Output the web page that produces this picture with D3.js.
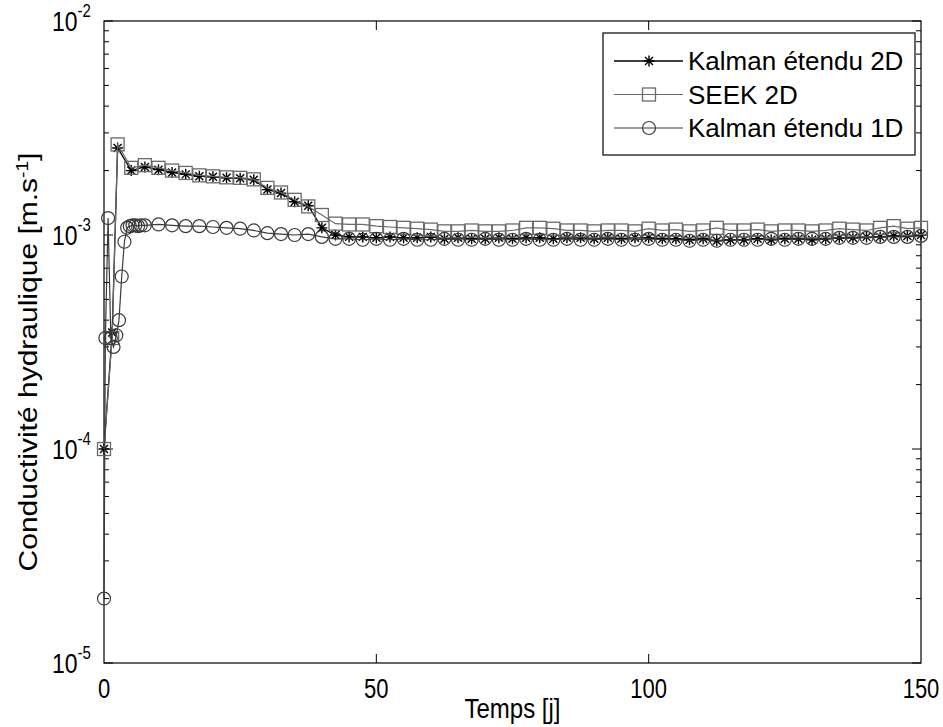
<!DOCTYPE html>
<html>
<head>
<meta charset="utf-8">
<script src="https://cdn.jsdelivr.net/npm/d3@7"></script>
<style>
  html, body { margin: 0; padding: 0; background: #fff; }
  svg { display: block; font-family: "Liberation Sans", Arial, sans-serif; }
</style>
</head>
<body>
<div id="chart"></div>
<script>
// times in days
var timesEkf2D = [0, 1.5, 2.5, 5, 7.5, 10, 12.5, 15, 17.5, 20, 22.5, 25, 27.5, 30, 32.5, 35, 37.5, 40,
    42.5, 45, 47.5, 50, 52.5, 55, 57.5, 60, 62.5, 65, 67.5, 70, 72.5, 75, 77.5, 80, 82.5, 85, 87.5, 90,
    92.5, 95, 97.5, 100, 102.5, 105, 107.5, 110, 112.5, 115, 117.5, 120, 122.5, 125, 127.5, 130,
    132.5, 135, 137.5, 140, 142.5, 145, 147.5, 150];
var timesSeek2D = timesEkf2D;
var timesEkf1D = [0, 0.25, 0.75, 1.25, 1.75, 2.25, 2.75, 3.25, 3.75, 4.25, 4.75, 5.25, 5.75, 6.25, 6.75,
    7.5, 10, 12.5, 15, 17.5, 20, 22.5, 25, 27.5, 30, 32.5, 35, 37.5, 40,
    42.5, 45, 47.5, 50, 52.5, 55, 57.5, 60, 62.5, 65, 67.5, 70, 72.5, 75, 77.5, 80, 82.5, 85, 87.5, 90,
    92.5, 95, 97.5, 100, 102.5, 105, 107.5, 110, 112.5, 115, 117.5, 120, 122.5, 125, 127.5, 130,
    132.5, 135, 137.5, 140, 142.5, 145, 147.5, 150];

// conductivity values, in units of 1e-3 m/s
var ekf2D = [0.10, 0.35, 2.55, 2.00, 2.08, 2.02, 1.96, 1.92, 1.88, 1.87, 1.85, 1.84, 1.81, 1.63, 1.57, 1.43, 1.37, 1.08,
    1.00, 0.98, 0.98, 0.97, 0.98, 0.97, 0.97, 0.98, 0.96, 0.97, 0.96, 0.96, 0.97, 0.96, 0.97, 0.97, 0.96, 0.97, 0.97, 0.96,
    0.97, 0.96, 0.97, 0.97, 0.96, 0.96, 0.95, 0.96, 0.94, 0.95, 0.95, 0.96, 0.95, 0.96, 0.96, 0.95,
    0.96, 0.97, 0.97, 0.98, 0.98, 0.99, 0.99, 1.00];
var seek2D = [0.10, 0.33, 2.65, 2.06, 2.12, 2.06, 2.00, 1.95, 1.90, 1.88, 1.86, 1.85, 1.82, 1.66, 1.58, 1.46, 1.36, 1.24,
    1.13, 1.12, 1.12, 1.10, 1.09, 1.08, 1.07, 1.06, 1.04, 1.04, 1.05, 1.04, 1.04, 1.05, 1.08, 1.08, 1.07, 1.05, 1.05, 1.04,
    1.05, 1.05, 1.04, 1.07, 1.05, 1.06, 1.04, 1.05, 1.08, 1.05, 1.05, 1.06, 1.04, 1.05, 1.05, 1.04,
    1.05, 1.07, 1.06, 1.05, 1.08, 1.10, 1.07, 1.08];
var ekf1D = [0.02, 0.33, 1.20, 0.33, 0.30, 0.34, 0.40, 0.64, 0.93, 1.08, 1.10, 1.11, 1.11, 1.10, 1.11,
    1.11, 1.12, 1.11, 1.10, 1.10, 1.09, 1.08, 1.07, 1.05, 1.02, 1.01, 1.00, 1.01, 0.98,
    0.96, 0.96, 0.95, 0.96, 0.95, 0.96, 0.95, 0.95, 0.96, 0.95, 0.95, 0.96, 0.95, 0.95, 0.96, 0.95, 0.95, 0.96, 0.95,
    0.95, 0.96, 0.95, 0.95, 0.96, 0.95, 0.95, 0.94, 0.95, 0.94, 0.95, 0.95, 0.95, 0.96, 0.95, 0.96,
    0.96, 0.96, 0.97, 0.97, 0.97, 0.98, 0.98, 0.98, 0.99];

var xTicks = [0, 50, 100, 150];
var yDecades = [-5, -4, -3, -2];
var legendLabels = ["Kalman étendu 2D", "SEEK 2D", "Kalman étendu 1D"];

var W = 943, H = 727;
var margin = {top: 21, right: 22, bottom: 64, left: 104};
var width = W - margin.left - margin.right;
var height = H - margin.top - margin.bottom;

var svg = d3.select("#chart").append("svg")
    .attr("width", W)
    .attr("height", H);

var g = svg.append("g")
    .attr("transform", "translate(" + margin.left + "," + margin.top + ")");

var x = d3.scaleLinear().domain([0, 150]).range([0, width]);
var y = d3.scaleLog().domain([1e-5, 1e-2]).range([height, 0]);

function toSeries(times, vals) {
    return times.map(function (t, i) { return {t: t, v: vals[i] * 1e-3}; });
}

var series = [
    {name: legendLabels[0], data: toSeries(timesEkf2D, ekf2D), color: "#000", marker: "star", lw: 1.3},
    {name: legendLabels[1], data: toSeries(timesSeek2D, seek2D), color: "#6a6a6a", marker: "square", lw: 1.2},
    {name: legendLabels[2], data: toSeries(timesEkf1D, ekf1D), color: "#3a3a3a", marker: "circle", lw: 1.2}
];

// text that looks a bit taller than Liberation Sans, like the original
function tallText(parent, px, py, size, anchor, sy) {
    return parent.append("g")
        .attr("transform", "translate(" + px + "," + py + ") scale(1," + sy + ")")
        .append("text")
        .attr("text-anchor", anchor)
        .attr("font-size", size);
}

// axes box
g.append("rect")
    .attr("width", width).attr("height", height)
    .attr("fill", "none").attr("stroke", "#000").attr("stroke-width", 1.2);

// x ticks (inward, bottom and top)
var tickLen = 9, minorLen = 5;
xTicks.forEach(function (t) {
    if (t > 0 && t < 150) {
        g.append("line").attr("x1", x(t)).attr("x2", x(t)).attr("y1", height).attr("y2", height - tickLen)
            .attr("stroke", "#000");
        g.append("line").attr("x1", x(t)).attr("x2", x(t)).attr("y1", 0).attr("y2", tickLen)
            .attr("stroke", "#000");
    }
    tallText(g, x(t), height + 35, 22, "middle", 1.25).text(t);
});

// y ticks: major + log minor, both sides
var minorVals = [];
yDecades.forEach(function (d) {
    if (d < -2) {
        for (var k = 2; k <= 9; k++) minorVals.push(k * Math.pow(10, d));
    }
});
minorVals.forEach(function (v) {
    g.append("line").attr("x1", 0).attr("x2", minorLen).attr("y1", y(v)).attr("y2", y(v)).attr("stroke", "#000");
    g.append("line").attr("x1", width).attr("x2", width - minorLen).attr("y1", y(v)).attr("y2", y(v)).attr("stroke", "#000");
});
yDecades.forEach(function (d) {
    var v = Math.pow(10, d);
    g.append("line").attr("x1", 0).attr("x2", tickLen).attr("y1", y(v)).attr("y2", y(v)).attr("stroke", "#000");
    g.append("line").attr("x1", width).attr("x2", width - tickLen).attr("y1", y(v)).attr("y2", y(v)).attr("stroke", "#000");
    var lab = tallText(g, -52, y(v) + 10, 23, "start", 1.2);
    lab.append("tspan").text("10");
    lab.append("tspan").attr("dy", -12).attr("font-size", 15).text(d);
});

// axis titles
tallText(svg, margin.left + width / 2, 718, 24, "middle", 1.15).text("Temps [j]");

var yl = svg.append("text")
    .attr("transform", "translate(37," + (margin.top + height / 2 + 20) + ") rotate(-90) scale(1.2,1)")
    .attr("text-anchor", "middle")
    .attr("font-size", 25);
yl.append("tspan").text("Conductivité hydraulique [m.s");
yl.append("tspan").attr("dy", -9).attr("font-size", 16).text("-1");
yl.append("tspan").attr("dy", 9).text("]");

// markers
function drawMarker(sel, type, color) {
    if (type === "star") {
        var s = 5.5, d = 4;
        var p = "M" + (-s) + ",0H" + s + "M0," + (-s) + "V" + s +
            "M" + (-d) + "," + (-d) + "L" + d + "," + d + "M" + (-d) + "," + d + "L" + d + "," + (-d);
        sel.append("path").attr("d", p).attr("stroke", color).attr("stroke-width", 1.4).attr("fill", "none");
    } else if (type === "square") {
        sel.append("rect").attr("x", -6.5).attr("y", -6.5).attr("width", 13).attr("height", 13)
            .attr("fill", "none").attr("stroke", color).attr("stroke-width", 1.3);
    } else {
        sel.append("circle").attr("r", 6.5)
            .attr("fill", "none").attr("stroke", color).attr("stroke-width", 1.2);
    }
}

var line = d3.line()
    .x(function (d) { return x(d.t); })
    .y(function (d) { return y(d.v); });

series.forEach(function (s) {
    g.append("path")
        .datum(s.data)
        .attr("d", line)
        .attr("fill", "none")
        .attr("stroke", s.color)
        .attr("stroke-width", s.lw);
    g.selectAll(null)
        .data(s.data)
        .enter().append("g")
        .attr("transform", function (d) { return "translate(" + x(d.t) + "," + y(d.v) + ")"; })
        .each(function () { drawMarker(d3.select(this), s.marker, s.color); });
});

// legend
var leg = svg.append("g").attr("transform", "translate(603,33)");
leg.append("rect").attr("width", 312).attr("height", 122)
    .attr("fill", "#fff").attr("stroke", "#000").attr("stroke-width", 1.2);
series.forEach(function (s, i) {
    var ly = 28 + i * 33.5;
    leg.append("line").attr("x1", 11).attr("x2", 80).attr("y1", ly).attr("y2", ly)
        .attr("stroke", s.color).attr("stroke-width", s.lw);
    var m = leg.append("g").attr("transform", "translate(46," + ly + ")");
    drawMarker(m, s.marker, s.color);
    leg.append("text").attr("x", 85).attr("y", ly + 9)
        .attr("font-size", 26)
        .text(s.name);
});
</script>
</body>
</html>
